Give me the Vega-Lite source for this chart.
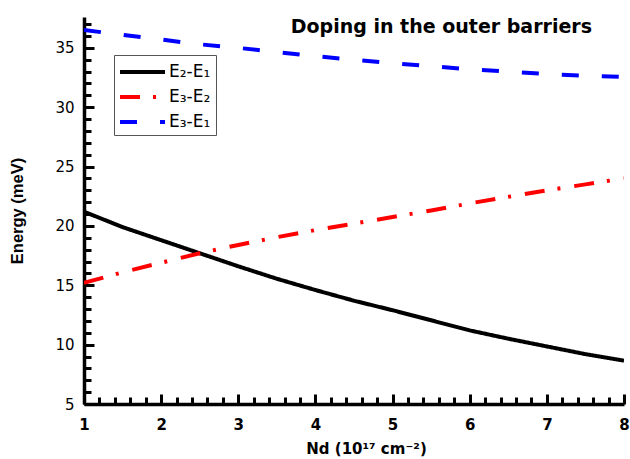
{
  "$schema": "https://vega.github.io/schema/vega-lite/v6.json",
  "width": 540,
  "height": 387,
  "autosize": "none",
  "padding": {"left": 84, "top": 17, "right": 6, "bottom": 55},
  "background": "white",
  "config": {
    "view": {"stroke": null},
    "font": "DejaVu Sans"
  },
  "title": {
    "text": "Doping in the outer barriers",
    "anchor": "end",
    "frame": "group",
    "orient": "top",
    "offset": -20,
    "dx": -32,
    "fontSize": 19,
    "fontWeight": "bold",
    "font": "DejaVu Sans",
    "color": "black"
  },
  "data": {
    "values": [
      {"nd": 1, "energy": 21.2, "series": "E₂-E₁"},
      {"nd": 1.5, "energy": 19.9, "series": "E₂-E₁"},
      {"nd": 2, "energy": 18.8, "series": "E₂-E₁"},
      {"nd": 2.5, "energy": 17.7, "series": "E₂-E₁"},
      {"nd": 3, "energy": 16.6, "series": "E₂-E₁"},
      {"nd": 3.5, "energy": 15.55, "series": "E₂-E₁"},
      {"nd": 4, "energy": 14.6, "series": "E₂-E₁"},
      {"nd": 4.5, "energy": 13.7, "series": "E₂-E₁"},
      {"nd": 5, "energy": 12.9, "series": "E₂-E₁"},
      {"nd": 5.5, "energy": 12.05, "series": "E₂-E₁"},
      {"nd": 6, "energy": 11.2, "series": "E₂-E₁"},
      {"nd": 6.5, "energy": 10.5, "series": "E₂-E₁"},
      {"nd": 7, "energy": 9.85, "series": "E₂-E₁"},
      {"nd": 7.5, "energy": 9.2, "series": "E₂-E₁"},
      {"nd": 8, "energy": 8.65, "series": "E₂-E₁"},
      {"nd": 1, "energy": 15.2, "series": "E₃-E₂"},
      {"nd": 1.5, "energy": 16.1, "series": "E₃-E₂"},
      {"nd": 2, "energy": 16.9, "series": "E₃-E₂"},
      {"nd": 2.5, "energy": 17.7, "series": "E₃-E₂"},
      {"nd": 3, "energy": 18.4, "series": "E₃-E₂"},
      {"nd": 3.5, "energy": 19.05, "series": "E₃-E₂"},
      {"nd": 4, "energy": 19.65, "series": "E₃-E₂"},
      {"nd": 4.5, "energy": 20.2, "series": "E₃-E₂"},
      {"nd": 5, "energy": 20.75, "series": "E₃-E₂"},
      {"nd": 5.5, "energy": 21.3, "series": "E₃-E₂"},
      {"nd": 6, "energy": 21.9, "series": "E₃-E₂"},
      {"nd": 6.5, "energy": 22.45, "series": "E₃-E₂"},
      {"nd": 7, "energy": 23.0, "series": "E₃-E₂"},
      {"nd": 7.5, "energy": 23.5, "series": "E₃-E₂"},
      {"nd": 8, "energy": 24.0, "series": "E₃-E₂"},
      {"nd": 1, "energy": 36.5, "series": "E₃-E₁"},
      {"nd": 1.5, "energy": 36.1, "series": "E₃-E₁"},
      {"nd": 2, "energy": 35.7, "series": "E₃-E₁"},
      {"nd": 2.5, "energy": 35.3, "series": "E₃-E₁"},
      {"nd": 3, "energy": 35.0, "series": "E₃-E₁"},
      {"nd": 3.5, "energy": 34.65, "series": "E₃-E₁"},
      {"nd": 4, "energy": 34.3, "series": "E₃-E₁"},
      {"nd": 4.5, "energy": 34.0, "series": "E₃-E₁"},
      {"nd": 5, "energy": 33.7, "series": "E₃-E₁"},
      {"nd": 5.5, "energy": 33.45, "series": "E₃-E₁"},
      {"nd": 6, "energy": 33.2, "series": "E₃-E₁"},
      {"nd": 6.5, "energy": 33.0, "series": "E₃-E₁"},
      {"nd": 7, "energy": 32.8, "series": "E₃-E₁"},
      {"nd": 7.5, "energy": 32.65, "series": "E₃-E₁"},
      {"nd": 8, "energy": 32.55, "series": "E₃-E₁"}
    ]
  },
  "mark": {"type": "line", "strokeWidth": 4, "clip": true},
  "encoding": {
    "x": {
      "field": "nd",
      "type": "quantitative",
      "scale": {"domain": [1, 8], "nice": false, "zero": false},
      "axis": {
        "title": "Nd (10¹⁷ cm⁻²)",
        "titleFont": "DejaVu Sans",
        "titleFontSize": 15,
        "titleFontWeight": "bold",
        "titleColor": "black",
        "titlePadding": 6,
        "titleX": 282,
        "values": [1,1.2,1.4,1.6,1.8,2,2.2,2.4,2.6,2.8,3,3.2,3.4,3.6,3.8,4,4.2,4.4,4.6,4.8,5,5.2,5.4,5.6,5.8,6,6.2,6.4,6.6,6.8,7,7.2,7.4,7.6,7.8,8],
        "labelExpr": "abs(datum.value - round(datum.value)) < 0.001 ? format(datum.value, 'd') : ''",
        "labelFont": "DejaVu Sans",
        "labelFontSize": 15,
        "labelFontWeight": "bold",
        "labelColor": "black",
        "labelPadding": 23,
        "labelFlush": false,
        "labelOverlap": false,
        "domainColor": "black",
        "domainWidth": 3.5,
        "tickColor": "black",
        "tickWidth": 3,
        "tickSize": {"condition": {"test": "abs(datum.value - round(datum.value)) < 0.001", "value": -10}, "value": -7},
        "grid": false
      }
    },
    "y": {
      "field": "energy",
      "type": "quantitative",
      "scale": {"domain": [5, 37.6], "nice": false, "zero": false},
      "axis": {
        "title": "Energy (meV)",
        "titleFont": "Liberation Sans",
        "titleFontSize": 16.5,
        "titleFontWeight": "bold",
        "titleColor": "black",
        "titlePadding": 29,
        "values": [5,6,7,8,9,10,11,12,13,14,15,16,17,18,19,20,21,22,23,24,25,26,27,28,29,30,31,32,33,34,35,36,37],
        "labelExpr": "datum.value % 5 === 0 ? datum.label : ''",
        "labelFont": "DejaVu Sans",
        "labelFontSize": 15,
        "labelColor": "black",
        "labelPadding": 20,
        "labelFlush": false,
        "labelOverlap": false,
        "domainColor": "black",
        "domainWidth": 3.5,
        "tickColor": "black",
        "tickWidth": 3,
        "tickSize": {"condition": {"test": "datum.value % 5 === 0", "value": -10}, "value": -7},
        "grid": false
      }
    },
    "color": {
      "field": "series",
      "type": "nominal",
      "scale": {"domain": ["E₂-E₁", "E₃-E₂", "E₃-E₁"], "range": ["black", "#ff0000", "#0000ff"]},
      "legend": {
        "title": null,
        "orient": "none",
        "legendX": 30,
        "legendY": 38,
        "direction": "vertical",
        "fillColor": "white",
        "strokeColor": "#555555",
        "padding": 5,
        "symbolType": "M-1.1,0H3.4",
        "symbolSize": 400,
        "symbolStrokeWidth": 4,
        "symbolOpacity": 1,
        "labelFont": "DejaVu Sans",
        "labelFontSize": 17,
        "labelColor": "black",
        "labelOffset": 26,
        "rowPadding": 5,
        "labelLimit": 200
      }
    },
    "strokeDash": {
      "field": "series",
      "type": "nominal",
      "scale": {"domain": ["E₂-E₁", "E₃-E₂", "E₃-E₁"], "range": [[1, 0], [20, 13, 3, 14], [17, 23]]},
      "legend": null
    }
  }
}
